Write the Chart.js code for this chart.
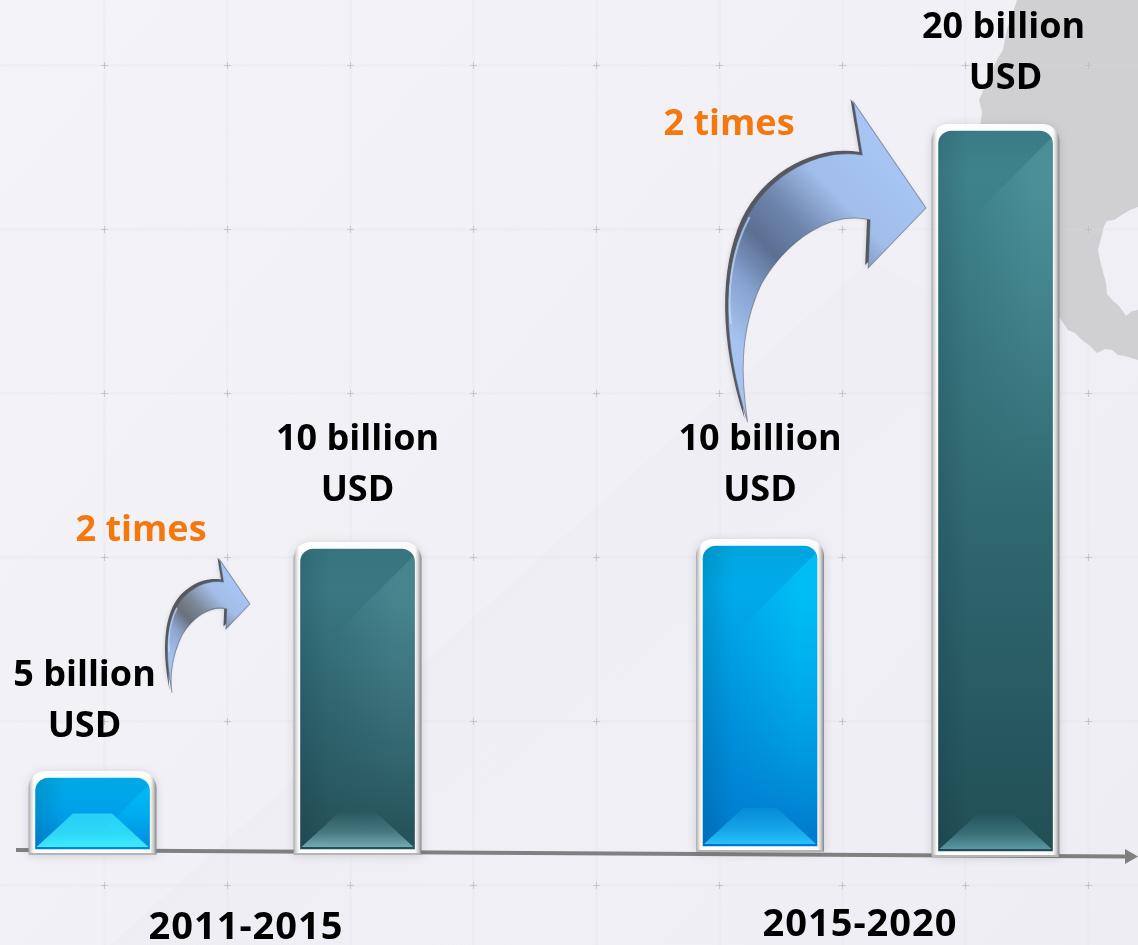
<!DOCTYPE html>
<html><head><meta charset="utf-8">
<style>html,body{margin:0;padding:0;background:#f0f0f5;overflow:hidden}canvas{display:block}</style>
<script src="https://cdn.jsdelivr.net/npm/chart.js@4/dist/chart.umd.js"></script>
</head><body><canvas id="c" width="1138" height="945"></canvas>
<script>
// ---- data ----
const categories = ["2011", "2015", "2015", "2020"];
const billionsUSD = [5, 10, 10, 20];
const valueLabels = ["5 billion", "10 billion", "10 billion", "20 billion"];
const unitLabel = "USD";
const growthLabel = "2 times";
const periodLabels = ["2011-2015", "2015-2020"];

// ---- layout and style ----
const W = 1138, H = 945;
const barCenters = [92.5, 357.5, 760, 995.5];
const barNudgeY = [0, 0, -3, 2];
const baselineY = 849;
// the picture's bars are not drawn to a linear scale: value -> pixel height
const axisKnots = [[0, 0], [5, 71], [10, 300], [20, 720]];
const FONT = '"Open Sans"';
const palettes = [
  {top:'#00b8f8', bot:'#0088da', glow:'#3ff0ff', apex:'99', mid:'bb', wedge:[0,200,255,.55]},
  {top:'#3c7e89', bot:'#255057', glow:'#79b0b8', apex:'00', mid:'66', wedge:[120,180,190,.24]},
  {top:'#00b2ef', bot:'#0079cc', glow:'#28c6ff', apex:'22', mid:'88', wedge:[0,205,255,.60]},
  {top:'#40868f', bot:'#224f56', glow:'#5e9ea8', apex:'00', mid:'66', wedge:[120,190,200,.24]}
];

class PlacedCategoryScale extends Chart.CategoryScale {
  static id = 'placedCategory';
  static defaults = {};
  getPixelForValue(value, index) {
    const i = (index === undefined || index === null) ? value : index;
    return this.left + barCenters[i] / W * this.width;
  }
}
class KnottedScale extends Chart.LinearScale {
  static id = 'knotted';
  static defaults = {};
  getPixelForValue(v) {
    const k = axisKnots;
    for (let i = 1; i < k.length; i++) {
      if (v <= k[i][0] || i === k.length - 1) {
        const t = (v - k[i-1][0]) / (k[i][0] - k[i-1][0]);
        return baselineY - (k[i-1][1] + t * (k[i][1] - k[i-1][1]));
      }
    }
  }
  getValueForPixel(p) {
    const k = axisKnots, h = baselineY - p;
    for (let i = 1; i < k.length; i++) {
      if (h <= k[i][1] || i === k.length - 1) {
        return k[i-1][0] + (h - k[i-1][1]) / (k[i][1] - k[i-1][1]) * (k[i][0] - k[i-1][0]);
      }
    }
  }
}
Chart.register(PlacedCategoryScale, KnottedScale);

function poly(ctx, pts) { ctx.beginPath(); pts.forEach((p, i) => i ? ctx.lineTo(p[0], p[1]) : ctx.moveTo(p[0], p[1])); ctx.closePath(); }

function drawBackdrop(ctx) {
  let g = ctx.createLinearGradient(0, 0, W, H);
  g.addColorStop(0, '#f3f3f8'); g.addColorStop(1, '#eeedf3');
  ctx.fillStyle = g; ctx.fillRect(0, 0, W, H);
  // faint diagonal shade
  g = ctx.createLinearGradient(380, 560, 640, 830);
  g.addColorStop(0, 'rgba(228,228,234,.0)');
  g.addColorStop(0.03, 'rgba(228,228,234,.35)');
  g.addColorStop(1, 'rgba(236,236,242,0)');
  ctx.fillStyle = g;
  poly(ctx, [[110, 945], [870, 260], [1138, 400], [1138, 945]]); ctx.fill();
  // map silhouette
  ctx.fillStyle = '#d0d0d3';
  poly(ctx, [[1017,0],[1014,9],[1012,18],[1008,26],[1006,34],[1003,50],[998,58],[994,66],[989,75],[986,84],[979,100],[982,112],[980,128],[975,180],[1000,300],
    [1059,317],[1064,324],[1068,330],[1075,333],[1082,340],[1090,346],[1097,353],[1105,349],[1112,350],[1118,355],[1125,356],[1138,360],
    [1138,310],[1132,311],[1126,316],[1122,310],[1118,305],[1112,300],[1107,294],[1106,283],[1103,272],[1100,260],[1098,250],[1100,242],[1102,235],[1104,226],[1107,221],[1114,220],[1120,216],[1125,213],[1130,210],[1138,207],[1138,0]]);
  ctx.fill();
  // grid with small crosses
  ctx.lineWidth = 3;
  for (let x = 104; x < W; x += 123) {
    ctx.strokeStyle = 'rgba(220,220,228,.13)';
    ctx.beginPath(); ctx.moveTo(x + .5, 0); ctx.lineTo(x + .5, H); ctx.stroke();
  }
  for (let y = 65; y < H; y += 164) {
    ctx.strokeStyle = 'rgba(220,220,228,.18)';
    ctx.lineWidth = 3;
    ctx.beginPath(); ctx.moveTo(0, y + .5); ctx.lineTo(W, y + .5); ctx.stroke();
    ctx.lineWidth = 1;
    for (let x = 104; x < W; x += 123) {
      ctx.strokeStyle = 'rgba(185,185,192,.7)';
      ctx.beginPath(); ctx.moveTo(x - 3, y + .5); ctx.lineTo(x + 4, y + .5);
      ctx.moveTo(x + .5, y - 3); ctx.lineTo(x + .5, y + 4); ctx.stroke();
    }
    ctx.lineWidth = 3;
  }
  // axis line with arrow head
  ctx.strokeStyle = '#808080'; ctx.lineWidth = 4;
  ctx.beginPath(); ctx.moveTo(16, 850); ctx.lineTo(1126, 856.5); ctx.stroke();
  ctx.fillStyle = '#808080';
  poly(ctx, [[1125, 849], [1138, 856.5], [1125, 864]]); ctx.fill();
}

function arrowPath(ctx, tail) {
  ctx.beginPath();
  ctx.moveTo(128, 0);
  ctx.lineTo(137, 53);
  ctx.bezierCurveTo(95, 46, 42, 70, 17, 120);
  ctx.bezierCurveTo(-6, 170, -6, 240, tail, 320);
  ctx.bezierCurveTo(tail - 6, 280, 10, 232, 34, 182);
  ctx.bezierCurveTo(60, 138, 105, 108, 145, 118);
  ctx.lineTo(143, 166);
  ctx.lineTo(202, 106);
  ctx.closePath();
}
function drawArrow(ctx, x, y, sx, sy, o) {
  ctx.save();
  ctx.translate(x, y); ctx.scale(sx, sy);
  ctx.save();
  ctx.shadowColor = 'rgba(0,0,0,.16)'; ctx.shadowBlur = 5; ctx.shadowOffsetY = 2;
  ctx.translate(-o.edge, -o.edge); arrowPath(ctx, o.tail); ctx.fillStyle = '#55585e'; ctx.fill();
  ctx.restore();
  arrowPath(ctx, o.tail);
  const g = ctx.createLinearGradient(8, 240, 175, 75);
  o.stops.forEach(s => g.addColorStop(s[0], s[1]));
  ctx.fillStyle = g; ctx.fill();
  ctx.strokeStyle = 'rgba(80,90,110,.55)'; ctx.lineWidth = 1 / sx; ctx.stroke();
  // glint along the outer curve
  ctx.save();
  arrowPath(ctx, o.tail); ctx.clip();
  ctx.strokeStyle = 'rgba(205,228,255,.6)'; ctx.lineWidth = 2 / sx;
  ctx.beginPath(); ctx.moveTo(22, 115); ctx.bezierCurveTo(3, 150, -1, 190, 3, 222); ctx.stroke();
  ctx.restore();
  ctx.restore();
}

function roundTop(ctx, l, t, w, h, r, br) {
  ctx.beginPath();
  ctx.roundRect(l, t, w, h, [r, r, br, br]);
}

const scenePlugin = {
  id: 'scene',
  afterDatasetsUpdate(chart) {
    chart.getDatasetMeta(0).data.forEach((b, i) => { b.y += barNudgeY[i]; b.base += barNudgeY[i]; });
  },
  beforeDatasetsDraw(chart) {
    const ctx = chart.ctx;
    ctx.save();
    drawBackdrop(ctx);
    chart.getDatasetMeta(0).data.forEach(b => {
      const l = b.x - b.width / 2 - 7, w = b.width + 14, t = b.y - 7, h = b.base - b.y + 13;
      ctx.save();
      ctx.shadowColor = 'rgba(60,60,70,.18)'; ctx.shadowBlur = 10; ctx.shadowOffsetY = 1;
      roundTop(ctx, l, t, w, h, 17, 1);
      const g = ctx.createLinearGradient(l, 0, l + w, 0);
      g.addColorStop(0, '#a9a9ab'); g.addColorStop(.02, '#d8d8d8'); g.addColorStop(.045, '#ffffff');
      g.addColorStop(.95, '#fafafa'); g.addColorStop(.975, '#cfcfcf'); g.addColorStop(1, '#858587');
      ctx.fillStyle = g; ctx.fill();
      ctx.restore();
      // bottom edge
      ctx.fillStyle = '#b5b5b7'; ctx.fillRect(l + 1, t + h - 2, w - 2, 2);
    });
    ctx.restore();
  },
  afterDatasetsDraw(chart) {
    const ctx = chart.ctx;
    const bars = chart.getDatasetMeta(0).data;
    bars.forEach((b, i) => {
      const l = b.x - b.width / 2, r = b.x + b.width / 2, t = b.y, bt = b.base, pal = palettes[i];
      ctx.save();
      roundTop(ctx, l, t, b.width, bt - t, 13, 0); ctx.clip();
      // side shading
      let g = ctx.createLinearGradient(l, 0, l + 30, 0);
      g.addColorStop(0, 'rgba(0,20,40,.13)'); g.addColorStop(1, 'rgba(0,20,40,0)');
      ctx.fillStyle = g; ctx.fillRect(l, t, 30, bt - t);
      // top flap (soft)
      const d = Math.min(42, (bt - t) * .5);
      g = ctx.createLinearGradient(0, t, 0, t + d);
      g.addColorStop(0, 'rgba(0,20,40,.09)'); g.addColorStop(1, 'rgba(0,20,40,0)');
      ctx.fillStyle = g; ctx.fillRect(l, t, b.width, d);
      // right wedge: crisp diagonal, fades downwards and to the left
      ctx.save();
      const wh = Math.min(360, (bt - t) * .95);
      const fadeW = 40;
      poly(ctx, [[r, t + 6], [r - d - fadeW, t + 6 + d + fadeW], [r - d - fadeW, t + wh], [r, t + wh]]);
      ctx.clip();
      const c = pal.wedge;
      const step = 4;
      for (let y = t; y < t + wh; y += step) {
        const a = c[3] * (1 - Math.pow((y - t) / wh, 1.3));
        g = ctx.createLinearGradient(r - d - fadeW, 0, r - 18, 0);
        g.addColorStop(0, `rgba(${c[0]},${c[1]},${c[2]},0)`);
        g.addColorStop(1, `rgba(${c[0]},${c[1]},${c[2]},${a})`);
        ctx.fillStyle = g;
        ctx.fillRect(r - d - fadeW, y, d + fadeW, step);
      }
      ctx.restore();
      // bottom trapezoid
      const th = Math.min(38, (bt - t) * .5);
      g = ctx.createLinearGradient(0, bt - th, 0, bt);
      g.addColorStop(0, pal.glow + pal.apex); g.addColorStop(.55, pal.glow + pal.mid); g.addColorStop(1, pal.glow);
      ctx.fillStyle = g;
      poly(ctx, [[l + th + 2, bt - th], [r - th - 2, bt - th], [r - 1, bt - 2], [l + 1, bt - 2]]); ctx.fill();
      ctx.restore();
    });
    // arrows
    drawArrow(ctx, 728, 102, 0.98, 1, {tail: 20, edge: 3, stops: [
      [0, '#a6c4ef'], [.2, '#86a2d0'], [.38, '#5a6f92'], [.55, '#6f86ad'], [.75, '#a1bdea'], [1, '#a6c5f3']]});
    drawArrow(ctx, 168, 560, 0.405, 0.415, {tail: 10, edge: 6, stops: [
      [0, '#a6c4ef'], [.25, '#8ca6cf'], [.42, '#6b6f78'], [.58, '#7c8796'], [.8, '#a3bde6'], [1, '#a6c5f3']]});
    // text
    ctx.save();
    ctx.textAlign = 'center'; ctx.textBaseline = 'alphabetic';
    ctx.font = 'bold 36px ' + FONT;
    ctx.fillStyle = '#000';
    const labelDx = [-8, 0, 0, 8];
    const labelBase = [[686, 737], [450, 501], [450, 501], [38, 89]];
    bars.forEach((b, i) => {
      ctx.fillText(valueLabels[i], b.x + labelDx[i], labelBase[i][0]);
      ctx.fillText(unitLabel, b.x + labelDx[i] + (i === 3 ? 2 : 0), labelBase[i][1]);
    });
    ctx.fillStyle = '#f5780f';
    ctx.fillText(growthLabel, 141, 541);
    ctx.fillText(growthLabel, 729, 135);
    ctx.fillStyle = '#000';
    ctx.font = 'bold 38px ' + FONT;
    ctx.letterSpacing = '1px';
    ctx.fillText(periodLabels[0], 246, 939);
    ctx.fillText(periodLabels[1], 860, 936);
    ctx.restore();
  }
};

new Chart(document.getElementById('c'), {
  type: 'bar',
  data: {
    labels: categories,
    datasets: [{
      label: 'Investment (billion USD)',
      data: billionsUSD,
      barThickness: 114,
      borderWidth: 0,
      borderSkipped: false,
      borderRadius: {topLeft: 13, topRight: 13, bottomLeft: 0, bottomRight: 0},
      backgroundColor(ctx) {
        if (ctx.type !== 'data') return '#3c7e89';
        const ys = ctx.chart.scales.y, v = billionsUSD[ctx.dataIndex], p = palettes[ctx.dataIndex];
        const g = ctx.chart.ctx.createLinearGradient(0, ys.getPixelForValue(v), 0, baselineY);
        g.addColorStop(0, p.top); g.addColorStop(1, p.bot);
        return g;
      }
    }]
  },
  options: {
    responsive: false,
    devicePixelRatio: 1,
    animation: false,
    layout: {padding: 0},
    plugins: {legend: {display: false}, tooltip: {enabled: false}, title: {display: false}},
    scales: {
      x: {type: 'placedCategory', display: false, offset: true},
      y: {type: 'knotted', display: false, min: 0, max: 22}
    }
  },
  plugins: [scenePlugin]
});
</script></body></html>
